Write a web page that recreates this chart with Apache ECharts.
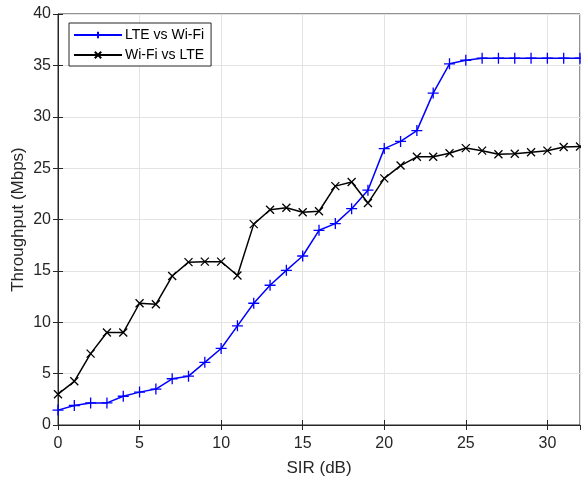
<!DOCTYPE html>
<html>
<head>
<meta charset="utf-8">
<script src="https://cdn.jsdelivr.net/npm/echarts@6/dist/echarts.min.js"></script>
<style>
html,body{margin:0;padding:0;background:#fff;}
#chart{width:581px;height:478px;}
</style>
</head>
<body>
<div id="chart"></div>
<script>
// SIR (dB) values
var sir = [0,1,2,3,4,5,6,7,8,9,10,11,12,13,14,15,16,17,18,19,20,21,22,23,24,25,26,27,28,29,30,31,32];
// LTE vs Wi-Fi throughput
var lteWifi = [1.45,1.9,2.15,2.15,2.8,3.2,3.5,4.5,4.75,6.1,7.45,9.65,11.85,13.6,15.05,16.45,18.95,19.6,21.05,22.85,26.9,27.6,28.65,32.3,35.15,35.5,35.7,35.7,35.7,35.7,35.7,35.7,35.7];
// Wi-Fi vs LTE throughput
var wifiLte = [3.0,4.25,6.95,9.0,9.0,11.85,11.75,14.5,15.85,15.9,15.9,14.55,19.55,20.95,21.15,20.7,20.8,23.25,23.65,21.6,24.0,25.25,26.1,26.1,26.45,26.95,26.7,26.35,26.4,26.55,26.7,27.05,27.1];
var yTicks = [0,5,10,15,20,25,30,35,40];

function pairs(xs, ys) {
	var out = [];
	for (var i = 0; i < xs.length; i++) {
		out.push([xs[i], ys[i]]);
	}
	return out;
}

var plusSym = 'path://M0,-10L0,10M-10,0L10,0';
var crossSym = 'path://M-10,-10L10,10M-10,10L10,-10';
var fontFam = 'Liberation Sans, Arial, sans-serif';
var tickFont = 16;
var nameFont = 17;
var axisCol = '#262626';

var myChart = echarts.init(document.getElementById('chart'));
var option = {
	animation: false,
	backgroundColor: '#fff',
	grid: {
		left: 58, right: 1, top: 14, bottom: 53,
		containLabel: false, outerBoundsMode: 'none',
		show: true, borderColor: axisCol, borderWidth: 1, backgroundColor: 'transparent'
	},
	legend: {
		orient: 'vertical',
		left: 69, top: 23,
		padding: [5, 7, 4, 4],
		itemGap: 6,
		itemWidth: 48, itemHeight: 8,
		borderColor: axisCol, borderWidth: 1, borderRadius: 0,
		backgroundColor: '#fff',
		textStyle: { fontFamily: fontFam, fontSize: 14, color: '#000', padding: [0, 0, 0, -2] },
		data: ['LTE vs Wi-Fi', 'Wi-Fi vs LTE']
	},
	xAxis: [{
		type: 'value', min: 0, max: 32, interval: 5,
		name: 'SIR (dB)', nameLocation: 'middle', nameGap: 35, nameMoveOverlap: false,
		nameTextStyle: { fontFamily: fontFam, fontSize: nameFont, color: axisCol },
		axisLine: { show: true, onZero: false, lineStyle: { color: axisCol } },
		axisTick: { show: true, inside: true, length: 5, lineStyle: { color: axisCol } },
		axisLabel: { fontFamily: fontFam, fontSize: tickFont, color: axisCol, margin: 11, showMaxLabel: false },
		splitLine: { show: true, lineStyle: { color: '#e3e3e3' } }
	}, {
		type: 'value', min: 0, max: 32, interval: 5, position: 'top',
		axisLine: { show: false },
		axisTick: { show: true, inside: true, length: 5, lineStyle: { color: axisCol } },
		axisLabel: { show: false },
		splitLine: { show: false }
	}],
	yAxis: [{
		type: 'value', min: yTicks[0], max: yTicks[yTicks.length - 1], interval: 5,
		name: 'Throughput (Mbps)', nameLocation: 'middle', nameGap: 31, nameMoveOverlap: false,
		nameTextStyle: { fontFamily: fontFam, fontSize: nameFont, color: axisCol },
		axisLine: { show: true, onZero: false, lineStyle: { color: axisCol } },
		axisTick: { show: true, inside: true, length: 5, lineStyle: { color: axisCol } },
		axisLabel: { fontFamily: fontFam, fontSize: tickFont, color: axisCol, margin: 7 },
		splitLine: { show: true, lineStyle: { color: '#e3e3e3' } }
	}, {
		type: 'value', min: 0, max: 40, interval: 5, position: 'right',
		axisLine: { show: false },
		axisTick: { show: true, inside: true, length: 5, lineStyle: { color: axisCol } },
		axisLabel: { show: false },
		splitLine: { show: false }
	}],
	series: [{
		name: 'LTE vs Wi-Fi',
		type: 'line',
		data: pairs(sir, lteWifi),
		symbol: plusSym, symbolSize: 11,
		showAllSymbol: true,
		lineStyle: { color: '#0000ff', width: 1.5 },
		itemStyle: { color: '#0000ff', borderColor: '#0000ff', borderWidth: 1.3 }
	}, {
		name: 'Wi-Fi vs LTE',
		type: 'line',
		data: pairs(sir, wifiLte),
		symbol: crossSym, symbolSize: 8,
		showAllSymbol: true,
		lineStyle: { color: '#000000', width: 1.5 },
		itemStyle: { color: '#000000', borderColor: '#000000', borderWidth: 1.3 }
	}]
};
myChart.setOption(option);
</script>
</body>
</html>
